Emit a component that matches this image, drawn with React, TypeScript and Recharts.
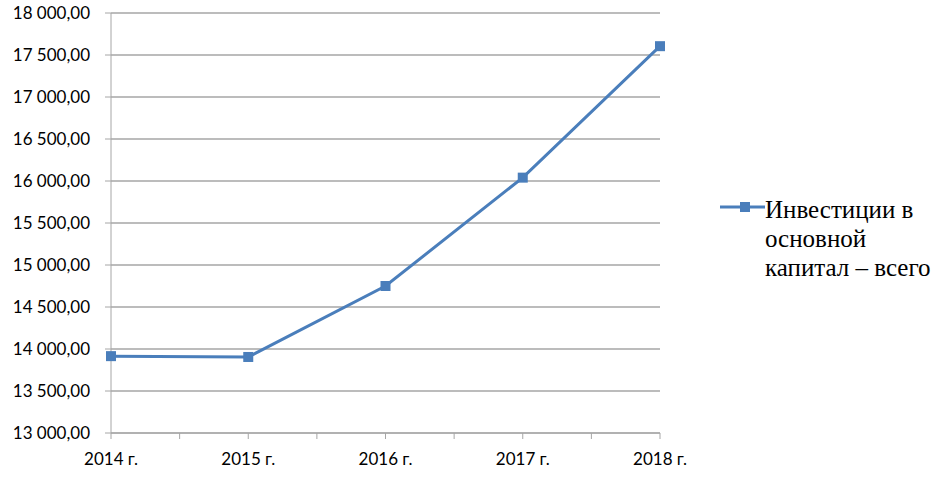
import { LineChart, Line, XAxis, YAxis, CartesianGrid, Legend } from "recharts";

const years = ["2014 г.", "2015 г.", "2016 г.", "2017 г.", "2018 г."];
const investments = [13915, 13905, 14750, 16040, 17605];
const seriesName = "Инвестиции в основной капитал – всего";
const legendLines = ["Инвестиции в", "основной", "капитал – всего"];

const yTicks = [13000, 13500, 14000, 14500, 15000, 15500, 16000, 16500, 17000, 17500, 18000];
// minor ticks every 100 (axis setting, not data)
const yMinorTicks = Array.from({ length: 51 }, (_, i) => 13000 + i * 100).filter((v) => v % 500 !== 0);
const xTicks = [0, 0.5, 1, 1.5, 2, 2.5, 3, 3.5, 4];

const data = years.map((year, i) => ({ idx: i, year, value: investments[i] }));

const BLUE = "#4a7ebb";
const GRID = "#a6a6a6";
const TICK_FONT = { fontSize: 17, fill: "#000", fontFamily: "Lato" };

function formatRu(v: number): string {
  const [int, frac] = v.toFixed(2).split(".");
  return int.replace(/\B(?=(\d{3})+(?!\d))/g, " ") + "," + frac;
}

function SquareDot(props: any) {
  const { cx, cy, index } = props;
  if (cx == null || cy == null) return null;
  return <rect key={index} x={cx - 5} y={cy - 5} width={10} height={10} fill={BLUE} />;
}

function LegendBox() {
  return (
    <div
      style={{
        paddingLeft: 60,
        fontFamily: "Liberation Serif",
        fontSize: 25,
        lineHeight: "29px",
        color: "#000",
        display: "flex",
        alignItems: "flex-start",
        whiteSpace: "nowrap",
      }}
    >
      <svg width={45} height={29} style={{ flexShrink: 0 }}>
        <line x1={0} y1={12} x2={45} y2={12} stroke={BLUE} strokeWidth={3} />
        <rect x={20} y={7} width={10} height={10} fill={BLUE} />
      </svg>
      <div>
        {legendLines.map((l) => (
          <div key={l}>{l}</div>
        ))}
      </div>
    </div>
  );
}

export default function App() {
  return (
    <div style={{ position: "absolute", left: 0, top: 0, background: "#fff" }}>
      <LineChart
        width={939}
        height={477}
        data={data}
        margin={{ top: 13, right: 0, left: 8, bottom: 14 }}
      >
        <CartesianGrid vertical={false} stroke={GRID} strokeWidth={1.5} />
        <XAxis
          dataKey="idx"
          type="number"
          domain={[0, 4]}
          ticks={xTicks}
          tickFormatter={(v: number) => (Number.isInteger(v) ? years[v] : "")}
          stroke={GRID}
          tick={TICK_FONT}
          tickSize={6}
          tickMargin={14}
          height={30}
          interval={0}
        />
        <YAxis
          domain={[13000, 18000]}
          ticks={yTicks}
          tickFormatter={formatRu}
          stroke={GRID}
          tick={TICK_FONT}
          tickSize={6}
          tickMargin={15}
          width={103}
          interval={0}
        />
        <YAxis
          yAxisId="minor"
          domain={[13000, 18000]}
          ticks={yMinorTicks}
          mirror
          width={0}
          tick={false}
          axisLine={false}
          tickSize={5}
          stroke={GRID}
          interval={0}
        />
        <Legend
          layout="vertical"
          align="right"
          verticalAlign="middle"
          wrapperStyle={{ width: 279 }}
          content={() => <LegendBox />}
        />
        <Line
          dataKey="value"
          name={seriesName}
          stroke={BLUE}
          strokeWidth={3}
          dot={<SquareDot />}
          activeDot={false}
          isAnimationActive={false}
        />
      </LineChart>
    </div>
  );
}
